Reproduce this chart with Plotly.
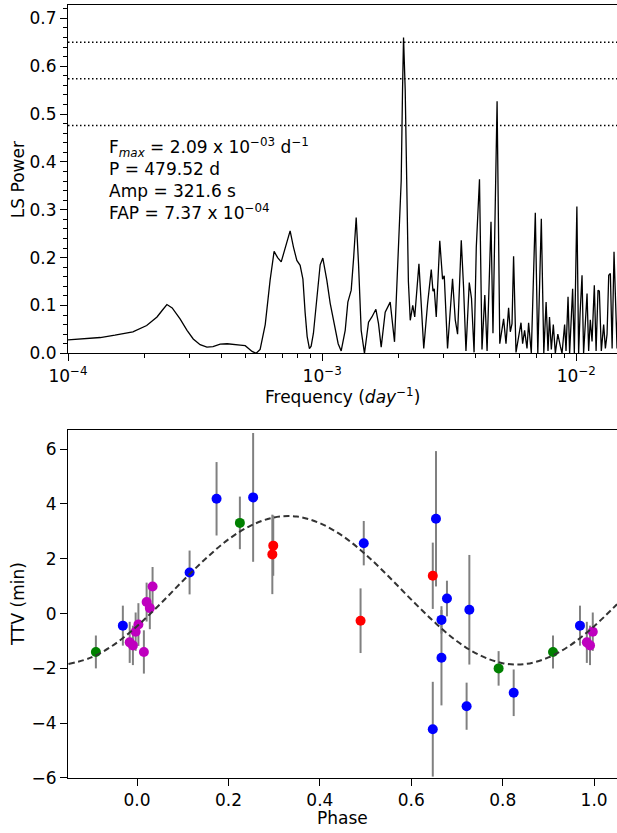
import plotly.graph_objects as go

# ---------------- Periodogram (top panel) ----------------
FREQ = [
    1.00e-4, 1.17e-4, 1.34e-4, 1.53e-4, 1.80e-4, 2.04e-4, 2.24e-4, 2.35e-4, 2.45e-4, 2.57e-4,
    2.76e-4, 2.94e-4, 3.11e-4, 3.31e-4, 3.52e-4, 3.72e-4, 3.97e-4, 4.23e-4, 4.48e-4, 4.76e-4,
    4.98e-4, 5.16e-4, 5.30e-4, 5.50e-4, 5.70e-4, 5.97e-4, 6.24e-4, 6.47e-4, 6.68e-4, 6.90e-4,
    7.22e-4, 7.48e-4, 7.71e-4, 7.95e-4, 8.19e-4, 8.40e-4, 8.57e-4, 8.73e-4, 8.91e-4, 9.05e-4,
    9.24e-4, 9.58e-4, 9.82e-4, 1.006e-3, 1.043e-3, 1.075e-3, 1.125e-3, 1.156e-3, 1.188e-3, 1.232e-3,
    1.262e-3, 1.301e-3, 1.330e-3, 1.361e-3, 1.390e-3, 1.424e-3, 1.467e-3, 1.522e-3, 1.569e-3, 1.627e-3,
    1.666e-3, 1.707e-3, 1.770e-3, 1.852e-3, 1.926e-3, 1.986e-3, 2.046e-3, 2.071e-3, 2.090e-3, 2.122e-3,
    2.151e-3, 2.184e-3, 2.221e-3, 2.272e-3, 2.313e-3, 2.403e-3, 2.510e-3, 2.598e-3, 2.687e-3, 2.729e-3,
    2.760e-3, 2.811e-3, 2.902e-3, 2.976e-3, 3.022e-3, 3.114e-3, 3.258e-3, 3.339e-3, 3.410e-3, 3.526e-3,
    3.600e-3, 3.679e-3, 3.791e-3, 3.868e-3, 3.960e-3, 4.040e-3, 4.159e-3, 4.254e-3, 4.364e-3, 4.455e-3,
    4.616e-3, 4.699e-3, 4.878e-3, 4.998e-3, 5.174e-3, 5.288e-3, 5.414e-3, 5.498e-3, 5.584e-3, 5.664e-3,
    5.789e-3, 5.927e-3, 6.058e-3, 6.147e-3, 6.259e-3, 6.396e-3, 6.490e-3, 6.650e-3, 6.896e-3, 7.054e-3,
    7.282e-3, 7.447e-3, 7.605e-3, 7.737e-3, 7.843e-3, 7.973e-3, 8.118e-3, 8.267e-3, 8.457e-3, 8.650e-3,
    8.785e-3, 8.994e-3, 9.109e-3, 9.276e-3, 9.411e-3, 9.670e-3, 9.820e-3, 1.005e-2, 1.021e-2, 1.034e-2,
    1.053e-2, 1.068e-2, 1.085e-2, 1.102e-2, 1.118e-2, 1.135e-2, 1.153e-2, 1.177e-2, 1.196e-2, 1.217e-2,
    1.232e-2, 1.254e-2, 1.281e-2, 1.301e-2, 1.321e-2, 1.341e-2, 1.361e-2, 1.383e-2, 1.407e-2, 1.424e-2,
    1.446e-2, 1.464e-2,
]
POWER = [
    0.028, 0.030, 0.033, 0.038, 0.045, 0.058, 0.076, 0.090, 0.102, 0.095,
    0.072, 0.048, 0.030, 0.018, 0.013, 0.014, 0.019, 0.020, 0.018, 0.017,
    0.016, 0.010, 0.004, 0.000, 0.008, 0.060, 0.153, 0.213, 0.200, 0.191,
    0.226, 0.256, 0.222, 0.194, 0.184, 0.155, 0.085, 0.035, 0.010, 0.015,
    0.042, 0.132, 0.185, 0.199, 0.153, 0.105, 0.048, 0.020, 0.005, 0.048,
    0.107, 0.132, 0.200, 0.284, 0.187, 0.048, 0.000, 0.065, 0.076, 0.092,
    0.062, 0.013, 0.086, 0.107, 0.024, 0.188, 0.360, 0.550, 0.660, 0.550,
    0.350, 0.150, 0.069, 0.100, 0.076, 0.187, 0.010, 0.103, 0.175, 0.130,
    0.135, 0.076, 0.235, 0.155, 0.162, 0.010, 0.156, 0.070, 0.040, 0.236,
    0.138, 0.005, 0.148, 0.115, 0.002, 0.222, 0.364, 0.008, 0.122, 0.005,
    0.275, 0.042, 0.527, 0.020, 0.072, 0.020, 0.095, 0.045, 0.062, 0.203,
    0.002, 0.036, 0.064, 0.020, 0.048, 0.010, 0.064, 0.000, 0.294, 0.000,
    0.281, 0.000, 0.107, 0.005, 0.076, 0.008, 0.060, 0.000, 0.040, 0.015,
    0.000, 0.060, 0.005, 0.118, 0.000, 0.135, 0.000, 0.307, 0.000, 0.080,
    0.163, 0.000, 0.060, 0.125, 0.005, 0.070, 0.025, 0.142, 0.005, 0.132,
    0.130, 0.005, 0.060, 0.010, 0.040, 0.163, 0.167, 0.010, 0.212, 0.134,
    0.010, 0.150,
]
FAP_LEVELS = [0.650, 0.574, 0.476]

FREQ_TICKS = [1e-4, 1e-3, 1e-2]
FREQ_TICK_TEXT = ["10<sup>−4</sup>", "10<sup>−3</sup>", "10<sup>−2</sup>"]
FREQ_MINOR = [m * d for d in (1e-4, 1e-3) for m in range(2, 10)]

INFO_LINES = [
    "F<sub><i>max</i></sub> = 2.09 x 10<sup>−03</sup> d<sup>−1</sup>",
    "P = 479.52 d",
    "Amp = 321.6 s",
    "FAP = 7.37 x 10<sup>−04</sup>",
]

# ---------------- TTV vs phase (bottom panel) ----------------
BLUE_PHASE = [-0.031, 0.115, 0.174, 0.254, 0.496, 0.647, 0.654, 0.666, 0.666, 0.678, 0.721, 0.727, 0.824]
BLUE_TTV = [-0.44, 1.50, 4.19, 4.24, 2.57, -4.22, 3.46, -0.23, -1.61, 0.55, -3.38, 0.14, -2.89]
BLUE_ERR = [0.73, 0.80, 1.34, 2.35, 0.81, 1.73, 2.47, 0.50, 1.74, 0.65, 0.86, 2.00, 0.85]

RED_PHASE = [0.296, 0.298, 0.489, 0.647]
RED_TTV = [2.16, 2.48, -0.26, 1.38]
RED_ERR = [1.45, 1.10, 1.18, 1.21]

GREEN_PHASE = [-0.090, 0.225, 0.791]
GREEN_TTV = [-1.40, 3.31, -2.00]
GREEN_ERR = [0.60, 0.96, 0.63]

MAGENTA_PHASE = [-0.016, -0.009, -0.003, 0.003, 0.015, 0.021, 0.028, 0.034]
MAGENTA_TTV = [-1.05, -1.16, -0.66, -0.40, -1.40, 0.42, 0.20, 0.99]
MAGENTA_ERR = [0.75, 0.72, 0.70, 0.78, 0.79, 0.71, 0.77, 0.71]

MODEL_PHASE = [-0.15, -0.10, -0.05, 0.00, 0.05, 0.10, 0.15, 0.20, 0.25, 0.30, 0.35, 0.40, 0.45,
               0.50, 0.55, 0.60, 0.65, 0.70, 0.75, 0.80, 0.85, 0.90, 0.95, 1.00, 1.05]
MODEL_TTV = [-1.84, -1.60, -1.13, -0.46, 0.34, 1.19, 2.00, 2.71, 3.22, 3.51, 3.54, 3.30, 2.83,
             2.16, 1.36, 0.51, -0.30, -1.01, -1.52, -1.81, -1.84, -1.60, -1.13, -0.46, 0.34]

PHASE_TICKS = [0.0, 0.2, 0.4, 0.6, 0.8, 1.0]
PHASE_TICK_TEXT = ["0.0", "0.2", "0.4", "0.6", "0.8", "1.0"]
TTV_TICKS = [-6, -4, -2, 0, 2, 4, 6]
TTV_TICK_TEXT = ["−6", "−4", "−2", "0", "2", "4", "6"]

FONT = "DejaVu Sans"
FS = 17

fig = go.Figure()

fig.add_trace(go.Scatter(x=FREQ, y=POWER, mode="lines",
                         line=dict(color="black", width=1.3),
                         xaxis="x", yaxis="y", showlegend=False, hoverinfo="skip"))

groups = [
    (BLUE_PHASE, BLUE_TTV, BLUE_ERR, "#0000ff"),
    (RED_PHASE, RED_TTV, RED_ERR, "#ff0000"),
    (GREEN_PHASE, GREEN_TTV, GREEN_ERR, "#008000"),
    (MAGENTA_PHASE, MAGENTA_TTV, MAGENTA_ERR, "#bf00bf"),
]
for ph, tv, er, col in groups:
    xs = list(ph) + [p + 1 for p in ph if p < 0]
    ys = list(tv) + [t for p, t in zip(ph, tv) if p < 0]
    es = list(er) + [e for p, e in zip(ph, er) if p < 0]
    fig.add_trace(go.Scatter(
        x=xs, y=ys, mode="markers",
        marker=dict(color=col, size=10, line=dict(width=0)),
        error_y=dict(type="data", array=es, color="#808080", thickness=2, width=0),
        xaxis="x2", yaxis="y2", showlegend=False))

fig.add_trace(go.Scatter(x=MODEL_PHASE, y=MODEL_TTV, mode="lines",
                         line=dict(color="#333333", width=2, dash="6px,3.5px", shape="spline"),
                         xaxis="x2", yaxis="y2", showlegend=False))

axis_common = dict(showline=True, linecolor="black", linewidth=1, ticks="outside",
                   ticklen=7, tickwidth=1, tickcolor="black", showgrid=False, zeroline=False,
                   automargin=False,
                   tickfont=dict(family=FONT, size=FS, color="black"))

TOP_DOMAIN = [0.5494, 1.0]
BOT_DOMAIN = [0.0, 0.4502]

fig.update_layout(
    width=617, height=833,
    margin=dict(l=68, r=0, t=5, b=55),
    paper_bgcolor="white", plot_bgcolor="white",
    font=dict(family=FONT, size=FS, color="black"),
    xaxis=dict(type="log", range=[-4, -1.84], domain=[0, 1], anchor="y", mirror=True,
               tickmode="array", tickvals=FREQ_TICKS, ticktext=FREQ_TICK_TEXT,
               minor=dict(tickmode="array", tickvals=FREQ_MINOR, ticks="outside",
                          ticklen=4, tickwidth=1, tickcolor="black"),
               **axis_common),
    yaxis=dict(range=[0, 0.728], domain=TOP_DOMAIN, anchor="x", mirror=False,
               tick0=0, dtick=0.1, tickformat=".1f",
               minor=dict(tick0=0, dtick=0.02, ticks="outside", ticklen=4, tickwidth=1,
                          tickcolor="black"),
               **axis_common),
    xaxis2=dict(range=[-0.151, 1.05], domain=[0, 1], anchor="y2", mirror=True,
                tickmode="array", tickvals=PHASE_TICKS, ticktext=PHASE_TICK_TEXT,
                **axis_common),
    yaxis2=dict(range=[-6, 6.7], domain=BOT_DOMAIN, anchor="x2", mirror=False,
                tickmode="array", tickvals=TTV_TICKS, ticktext=TTV_TICK_TEXT,
                **axis_common),
)

for lvl in FAP_LEVELS:
    fig.add_shape(type="line", xref="x domain", yref="y", x0=0, x1=1, y0=lvl, y1=lvl,
                  line=dict(color="black", width=1.5, dash="1.5px,2.5px"))

fig.add_annotation(text="<br>".join(INFO_LINES), xref="paper", yref="paper", x=0.0705, y=0.7743,
                   xanchor="left", yanchor="middle", align="left", showarrow=False,
                   font=dict(family=FONT, size=FS, color="black"))

fig.add_annotation(text="LS Power", xref="paper", yref="paper", x=-0.0911,
                   y=(TOP_DOMAIN[0] + TOP_DOMAIN[1]) / 2, textangle=-90,
                   xanchor="center", yanchor="middle", showarrow=False,
                   font=dict(family=FONT, size=FS, color="black"))
fig.add_annotation(text="Frequency (<i>day</i><sup>−1</sup>)", xref="paper", yref="paper",
                   x=0.5, y=0.4942, xanchor="center", yanchor="middle", showarrow=False,
                   font=dict(family=FONT, size=FS, color="black"))
fig.add_annotation(text="TTV (min)", xref="paper", yref="paper", x=-0.0911,
                   y=(BOT_DOMAIN[0] + BOT_DOMAIN[1]) / 2, textangle=-90,
                   xanchor="center", yanchor="middle", showarrow=False,
                   font=dict(family=FONT, size=FS, color="black"))
fig.add_annotation(text="Phase", xref="paper", yref="paper", x=0.5, y=-0.0517,
                   xanchor="center", yanchor="middle", showarrow=False,
                   font=dict(family=FONT, size=FS, color="black"))

fig.write_html("out.html",
               config={"displayModeBar": False},
               post_script="document.body.style.margin='0px';"
                           "document.body.style.overflow='hidden';")
